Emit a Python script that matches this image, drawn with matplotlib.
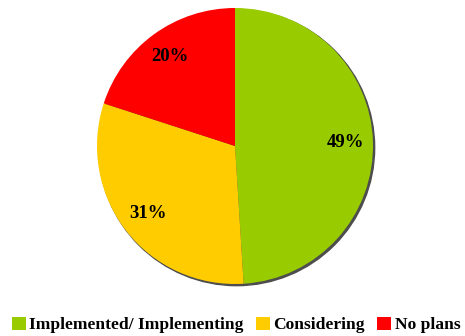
import matplotlib.pyplot as plt
from matplotlib.patches import Circle

labels = ["Implemented/ Implementing", "Considering", "No plans"]
shares = [49, 31, 20]
colors = ["#99cc00", "#ffcc00", "#ff0000"]

plt.rcParams['font.family'] = ['Liberation Serif', 'DejaVu Serif']

fig = plt.figure(figsize=(4.65, 3.36), dpi=100)
ax = fig.add_axes([97 / 465, 52 / 336, 276 / 465, 276 / 336])

# soft dark rim on the lower right
ax.add_patch(Circle((0.012, -0.012), 1.0, color="#4d4d4d", zorder=0, clip_on=False))

wedges, texts, autotexts = ax.pie(
    shares, colors=colors, startangle=90, counterclock=False,
    autopct="%d%%", pctdistance=0.8, radius=1.0,
    wedgeprops=dict(linewidth=0, zorder=1),
    textprops=dict(fontsize=13.5, fontweight="bold", color="black"),
)
ax.set_xlim(-1, 1)
ax.set_ylim(-1, 1)
ax.set_aspect("equal")
ax.axis("off")

fig.legend(wedges, labels, loc="center", bbox_to_anchor=(0.508, 0.033), ncol=3,
           frameon=False, handlelength=0.8, handleheight=0.8, handletextpad=0.2,
           columnspacing=0.7, prop=dict(size=12.6, weight="bold"))

fig.savefig("out.png", dpi=100)
